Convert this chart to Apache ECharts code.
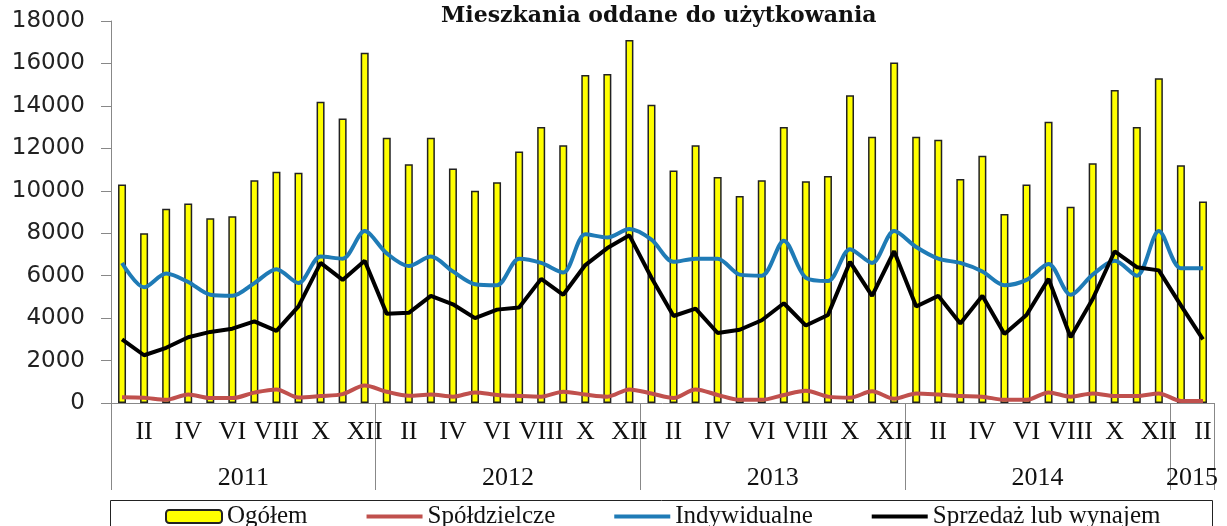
<!DOCTYPE html>
<html>
<head>
<meta charset="utf-8">
<script src="https://cdn.jsdelivr.net/npm/echarts@6/dist/echarts.min.js"></script>
<style>
  html, body { margin: 0; padding: 0; background: #fff; }
  #chart { width: 1227px; height: 526px; }
</style>
</head>
<body>
<div id="chart"></div>
<script>
// miesiące (etykiety osi) - 4 pełne lata + 2 miesiące 2015
var monthNames = ['I', 'II', 'III', 'IV', 'V', 'VI', 'VII', 'VIII', 'IX', 'X', 'XI', 'XII'];
var months = [].concat(monthNames, monthNames, monthNames, monthNames, ['I', 'II']);

var years = ['2011', '2012', '2013', '2014', '2015'];
var yearCenters = [6, 18, 30, 42, 49];      // środek grupy (w miesiącach)
var yearBounds = [0, 12, 24, 36, 48, 50];   // granice lat

var ogolem = [10300, 8000, 9150, 9400, 8700, 8800, 10500, 10900, 10850, 14200, 13400, 16500,
  12500, 11250, 12500, 11050, 10000, 10400, 11850, 13000, 12150, 15450, 15500, 17100,
  14050, 10950, 12150, 10650, 9750, 10500, 13000, 10450, 10700, 14500, 12550, 16050,
  12550, 12400, 10550, 11650, 8900, 10300, 13250, 9250, 11300, 14750, 13000, 15300,
  11200, 9500];

var spoldzielcze = [270, 250, 150, 400, 230, 230, 490, 640, 260, 330, 420, 820,
  530, 340, 400, 300, 500, 380, 330, 300, 530, 400, 300, 640,
  450, 240, 640, 380, 150, 150, 380, 580, 300, 250, 550, 200,
  450, 400, 330, 300, 150, 150, 500, 300, 450, 330, 330, 450,
  100, 100];

var indywidualne = [6600, 5450, 6100, 5700, 5100, 5050, 5650, 6300, 5650, 6900, 6800, 8100,
  7050, 6450, 6900, 6200, 5600, 5550, 6800, 6600, 6150, 7950, 7800, 8200,
  7700, 6650, 6800, 6800, 6050, 6000, 7650, 5900, 5750, 7250, 6600, 8100,
  7350, 6800, 6600, 6200, 5550, 5800, 6550, 5100, 6050, 6700, 6000, 8100,
  6350, 6350];

var sprzedaz = [3000, 2250, 2600, 3100, 3350, 3500, 3850, 3400, 4550, 6600, 5800, 6700,
  4200, 4250, 5050, 4650, 4000, 4400, 4500, 5850, 5100, 6500, 7300, 7900,
  5900, 4100, 4450, 3300, 3450, 3900, 4700, 3650, 4150, 6650, 5050, 7150,
  4550, 5050, 3750, 5050, 3250, 4150, 5850, 3100, 4900, 7150, 6400, 6250,
  4600, 3000];

// ikona linii w legendzie (cienki prostokąt)
var lineIcon = 'path://M0,0H56V4H0Z';

var chart = echarts.init(document.getElementById('chart'));

var option = {
  animation: false,
  title: {
    text: 'Mieszkania oddane do użytkowania',
    left: 436,
    top: 0,
    textStyle: {
      fontFamily: 'DejaVu Serif',
      fontWeight: 'bold',
      fontSize: 22,
      color: '#111'
    }
  },
  // ramka legendy
  graphic: [{
    type: 'rect',
    left: 108,
    top: 498,
    silent: true,
    shape: { width: 1102, height: 40 },
    style: { fill: 'none', stroke: '#222', lineWidth: 1 }
  }],
  legend: {
    left: 108,
    top: 498,
    padding: [6, 48, 4, 57],
    itemGap: 59,
    itemWidth: 56,
    itemHeight: 13,
    textStyle: { fontFamily: 'Liberation Serif', fontSize: 25, color: '#111' },
    data: [
      { name: 'Ogółem' },
      { name: 'Spółdzielcze', icon: lineIcon },
      { name: 'Indywidualne', icon: lineIcon },
      { name: 'Sprzedaż lub wynajem', icon: lineIcon }
    ]
  },
  grid: {
    left: 111,
    right: 13,
    top: 21,
    bottom: 123,
    containLabel: false,
    outerBoundsMode: 'none'
  },
  xAxis: [
    {
      type: 'category',
      data: months,
      axisLine: { lineStyle: { color: '#888', width: 1 } },
      axisTick: { show: false },
      axisLabel: {
        interval: function (idx) { return idx % 2 === 1; },
        fontFamily: 'Liberation Serif',
        fontSize: 26,
        color: '#111',
        margin: 16
      }
    },
    {
      // druga linia osi: lata
      type: 'value',
      min: 0,
      max: 50,
      position: 'bottom',
      axisLine: { show: false },
      splitLine: { show: false },
      axisTick: {
        show: true,
        customValues: yearBounds,
        length: 87,
        lineStyle: { color: '#888', width: 1 }
      },
      axisLabel: {
        customValues: yearCenters,
        formatter: function (v) { return years[yearCenters.indexOf(v)]; },
        fontFamily: 'Liberation Serif',
        fontSize: 26,
        color: '#111',
        margin: 62
      }
    }
  ],
  yAxis: {
    type: 'value',
    min: 0,
    max: 18000,
    interval: 2000,
    axisLine: { show: true, lineStyle: { color: '#888', width: 1 } },
    axisTick: { show: true, length: 10, lineStyle: { color: '#888' } },
    splitLine: { show: false },
    axisLabel: {
      formatter: function (v) { return String(v); },
      fontFamily: 'DejaVu Sans',
      fontSize: 23,
      color: '#222',
      margin: 26
    }
  },
  series: [
    {
      name: 'Ogółem',
      type: 'bar',
      data: ogolem,
      barWidth: 8,
      itemStyle: { color: '#ffff00', borderColor: '#222', borderWidth: 1.5 }
    },
    {
      name: 'Spółdzielcze',
      type: 'line',
      data: spoldzielcze,
      symbol: 'none',
      smooth: 0.3,
      lineStyle: { color: '#c0504d', width: 4 },
      itemStyle: { color: '#c0504d' }
    },
    {
      name: 'Indywidualne',
      type: 'line',
      data: indywidualne,
      symbol: 'none',
      smooth: 0.3,
      lineStyle: { color: '#1f7bb6', width: 4 },
      itemStyle: { color: '#1f7bb6' }
    },
    {
      name: 'Sprzedaż lub wynajem',
      type: 'line',
      data: sprzedaz,
      symbol: 'none',
      lineStyle: { color: '#000', width: 4 },
      itemStyle: { color: '#000' }
    }
  ]
};

chart.setOption(option);
</script>
</body>
</html>
